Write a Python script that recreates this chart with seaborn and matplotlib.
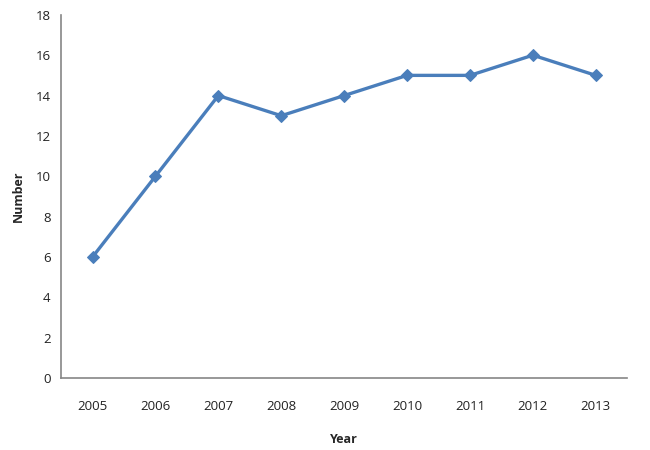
import numpy as np
import pandas as pd
import seaborn as sns
import matplotlib.pyplot as plt

years = ['2005', '2006', '2007', '2008', '2009', '2010', '2011', '2012', '2013']
counts = [6, 10, 14, 13, 14, 15, 15, 16, 15]

line_color = '#4A7EBB'
axis_color = '#868686'

df = pd.DataFrame({'Year': years, 'Number': counts})

sns.set_style("white")
plt.rcParams['font.family'] = ['Open Sans', 'DejaVu Sans']

fig = plt.figure(figsize=(6.5, 4.5), dpi=100)
ax = fig.add_axes([0.094, 0.16, 0.871, 0.807])

sns.lineplot(data=df, x='Year', y='Number', color=line_color, linewidth=2.4,
             marker='D', markersize=6.5, markeredgecolor=line_color, ax=ax)

ax.set_xlim(-0.5, len(years) - 0.5)
ax.set_ylim(0, 18)
ax.set_yticks(np.arange(0, 19, 2))

# Excel style: tick marks between categories, labels at centres
ax.set_xticks(np.arange(-0.5, len(years), 1))
ax.set_xticklabels([])
ax.set_xticks(np.arange(len(years)), minor=True)
ax.set_xticklabels(years, minor=True)
ax.tick_params(axis='x', which='minor', length=0, pad=16, labelsize=9.5, colors='#222222')
ax.tick_params(axis='x', which='major', length=4, width=1, color=axis_color)
ax.tick_params(axis='y', length=4, width=1, color=axis_color, labelsize=9.5, labelcolor='#222222')

for side in ['top', 'right']:
    ax.spines[side].set_visible(False)
for side in ['left', 'bottom']:
    ax.spines[side].set_color(axis_color)
    ax.spines[side].set_linewidth(1.2)

ax.set_xlabel('Year', fontsize=9, fontweight='bold', labelpad=14)
ax.set_ylabel('Number', fontsize=9, fontweight='bold', labelpad=8)

fig.savefig('out.png', dpi=100)
